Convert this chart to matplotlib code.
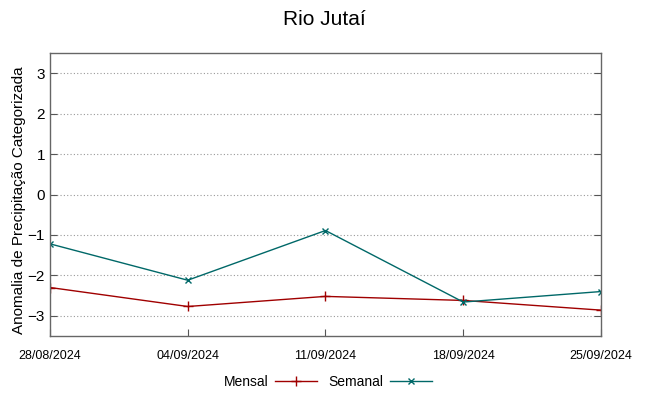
import matplotlib
matplotlib.use('Agg')
import matplotlib.pyplot as plt

plt.rcParams['font.family'] = ['Liberation Sans', 'DejaVu Sans']

datas = ['28/08/2024', '04/09/2024', '11/09/2024', '18/09/2024', '25/09/2024']
mensal = [-2.30, -2.77, -2.52, -2.62, -2.86]
semanal = [-1.22, -2.12, -0.89, -2.66, -2.40]

x = range(len(datas))

fig = plt.figure(figsize=(6.49, 3.96), dpi=100)
ax = fig.add_axes([0.077, 0.1515, 0.849, 0.7145])

ax.plot(x, mensal, color='#a00000', lw=1, marker='+', ms=7, mew=1, label='Mensal')
ax.plot(x, semanal, color='#006868', lw=1, marker='x', ms=5, mew=1, label='Semanal')

ax.set_xlim(0, len(datas) - 1)
ax.set_ylim(-3.5, 3.5)
ax.set_xticks(list(x))
ax.set_xticklabels(datas, fontsize=9)
ax.set_yticks([3, 2, 1, 0, -1, -2, -3])
ax.tick_params(axis='y', labelsize=11, direction='in', right=True, length=5, color='#555555')
ax.tick_params(axis='x', direction='in', length=5, pad=10, color='#555555')
ax.grid(True, axis='y', linestyle=(0, (1, 2)), color='#999999', lw=0.8)
for s in ax.spines.values():
    s.set_color('#666666')
    s.set_linewidth(1)

ax.set_ylabel('Anomalia de Precipitação Categorizada', fontsize=11)
ax.yaxis.set_label_coords(-0.044, 0.48)
fig.suptitle('Rio Jutaí', fontsize=15, y=0.975)

fig.legend(loc='center', bbox_to_anchor=(0.505, 0.035), ncol=2, frameon=False,
           markerfirst=False, fontsize=10, handlelength=3, columnspacing=0.8,
           handletextpad=0.5)

fig.savefig('out.png', dpi=100)
